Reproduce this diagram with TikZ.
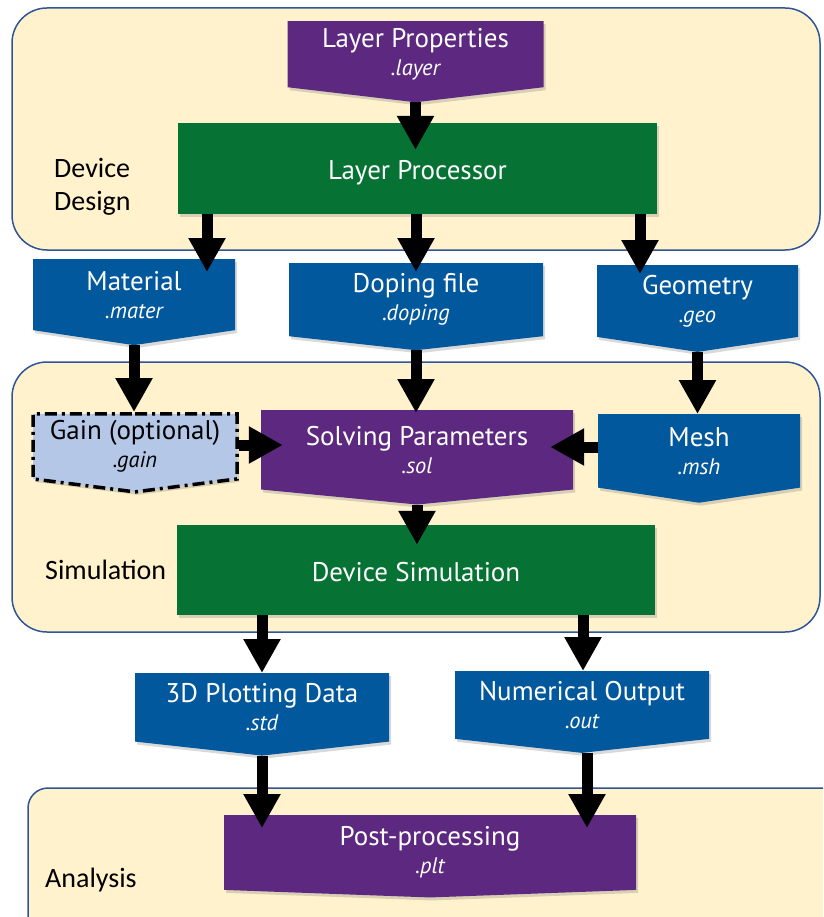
\documentclass[tikz,border=0pt]{standalone}
\usepackage{fontspec}
\setmainfont{Carlito}
\newfontfamily\boxfont{PT Sans}
\usetikzlibrary{arrows.meta}
\usetikzlibrary{shapes.symbols}
\usetikzlibrary{shadows}
\definecolor{panelFill}{RGB}{255,242,204}
\definecolor{panelLine}{RGB}{47,85,151}
\definecolor{fileBlue}{RGB}{2,88,156}
\definecolor{stepPurple}{RGB}{92,40,128}
\definecolor{procGreen}{RGB}{6,115,52}
\definecolor{gainFill}{RGB}{180,199,231}
\tikzset{panelStyle/.style={draw=panelLine, fill=panelFill, line width=1.5pt}}
\tikzset{labelStyle/.style={inner sep=0pt, align=left, font=\fontsize{28}{33}\selectfont}}
\tikzset{bannerStyle/.style={signal, signal to=south, signal from=nowhere, text=white, align=center, inner sep=0pt, anchor=north, font=\fontsize{27}{28}\selectfont\boxfont, drop shadow={shadow xshift=2pt, shadow yshift=-3pt, opacity=0.3}}}
\tikzset{procStyle/.style={rectangle, fill=procGreen, text=white, inner sep=0pt, text height=28pt, text depth=6pt, font=\fontsize{27}{28}\selectfont\boxfont, drop shadow={shadow xshift=2pt, shadow yshift=-3pt, opacity=0.3}}}
\tikzset{gainStyle/.style={bannerStyle, text=black, draw=black, line width=3.5pt, dash pattern=on 12pt off 5pt on 3pt off 5pt}}
\tikzset{flow/.style={line width=11pt, -{Triangle[width=35pt,length=34pt]}}}
\newcommand{\ext}[1]{{\fontsize{22.5}{29}\selectfont\itshape #1}}

\begin{document}
\begin{tikzpicture}[x=1pt, y=-1pt]
  \clip (0,0) rectangle (823,917);
  % panels
  \draw[panelStyle, rounded corners=35pt] (12,8) rectangle (820,250);
  \draw[panelStyle, rounded corners=35pt] (12,362) rectangle (820,632);
  \draw[panelStyle, rounded corners=20pt] (28,788) rectangle (860,960);
  \node[labelStyle, anchor=base west] (designlbl) at (54,211) {Device\\Design};
  \node[labelStyle, anchor=base west] (simlbl) at (45,579) {Simulation};
  \node[labelStyle, anchor=base west] (analysislbl) at (45,887) {Analysis};

  % nodes
  \node[bannerStyle, fill=stepPurple, minimum width=256pt, minimum height=77pt, signal pointer angle=166.6] (layerprop) at (415.5,21) {Layer Properties\\\ext{.layer}};
  \node[procStyle, minimum width=479pt, minimum height=91pt] (layproc) at (417.5,168.5) {Layer Processor};
  \node[bannerStyle, fill=fileBlue, minimum width=202pt, minimum height=78pt, signal pointer angle=163.1] (material) at (134,259) {Material\\\ext{.mater}};
  \node[bannerStyle, fill=fileBlue, minimum width=254pt, minimum height=80pt, signal pointer angle=167.4] (doping) at (416,263) {Doping file\\\ext{.doping}};
  \node[bannerStyle, fill=fileBlue, minimum width=201pt, minimum height=80pt, signal pointer angle=163] (geometry) at (697.5,265) {Geometry\\\ext{.geo}};
  \node[gainStyle, fill=gainFill, minimum width=204pt, minimum height=76pt, signal pointer angle=165.5] (gain) at (135,412) {Gain (optional)\\\ext{.gain}};
  \node[bannerStyle, fill=stepPurple, minimum width=312pt, minimum height=90pt, signal pointer angle=169] (solving) at (417,410) {Solving Parameters\\\ext{.sol}};
  \node[bannerStyle, fill=fileBlue, minimum width=202pt, minimum height=78pt, signal pointer angle=163] (mesh) at (699,414) {Mesh\\\ext{.msh}};
  \node[procStyle, minimum width=478pt, minimum height=90pt] (devsim) at (416,570) {Device Simulation};
  \node[bannerStyle, fill=fileBlue, minimum width=254pt, minimum height=79pt, signal pointer angle=167.4] (plot3d) at (262,673) {3D Plotting Data\\\ext{.std}};
  \node[bannerStyle, fill=fileBlue, minimum width=254pt, minimum height=79pt, signal pointer angle=167.4] (numout) at (582,671) {Numerical Output\\\ext{.out}};
  \node[bannerStyle, fill=stepPurple, minimum width=412pt, minimum height=78pt, signal pointer angle=175.8] (post) at (430,815) {Post-processing\\\ext{.plt}};

  % arrows
  \draw[flow, shorten >=-27pt] (layerprop.south) -- (layerprop.south |- layproc.north);
  \draw[flow, shorten >=-13pt] (layproc.south -| 207,0) -- (material.north -| 207,0);
  \draw[flow, shorten >=-9pt] (layproc.south -| doping.north) -- (doping.north);
  \draw[flow, shorten >=-9pt] (layproc.south -| 640,0) -- (geometry.north -| 640,0);
  \draw[flow] (material.south) -- (material.south |- gain.north);
  \draw[flow, shorten >=-3pt] (doping.south) -- (doping.south |- solving.north);
  \draw[flow] (geometry.south) -- (geometry.south |- mesh.north);
  \draw[flow, shorten >=-22pt] (gain.east |- 0,445) -- (solving.west |- 0,445);
  \draw[flow, shorten >=-23pt] (mesh.west |- 0,447) -- (solving.east |- 0,447);
  \draw[flow, shorten >=-20pt] (solving.south) -- (solving.south |- devsim.north);
  \draw[flow] (devsim.south -| plot3d.north) -- (plot3d.north);
  \draw[flow] (devsim.south -| 583,0) -- (numout.north -| 583,0);
  \draw[flow, shorten >=-13pt] (plot3d.south) -- (plot3d.south |- post.north);
  \draw[flow, shorten >=-13pt] (numout.south -| 587,0) -- (post.north -| 587,0);
\end{tikzpicture}
\end{document}
